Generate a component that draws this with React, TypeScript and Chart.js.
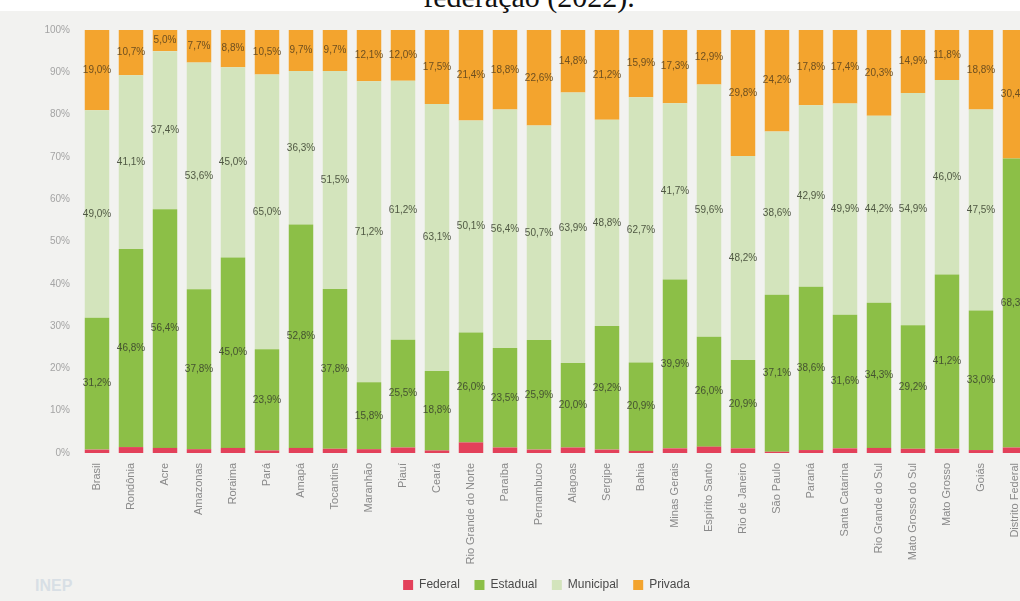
import React, { useEffect, useRef } from "react";
import { Chart, registerables } from "chart.js";

Chart.register(...registerables);

const categories = [
  "Brasil", "Rondônia", "Acre", "Amazonas", "Roraima", "Pará", "Amapá", "Tocantins",
  "Maranhão", "Piauí", "Ceará", "Rio Grande do Norte", "Paraíba", "Pernambuco", "Alagoas",
  "Sergipe", "Bahia", "Minas Gerais", "Espírito Santo", "Rio de Janeiro", "São Paulo",
  "Paraná", "Santa Catarina", "Rio Grande do Sul", "Mato Grosso do Sul", "Mato Grosso",
  "Goiás", "Distrito Federal",
];

const federal = [0.8, 1.4, 1.2, 0.9, 1.2, 0.6, 1.2, 1.0, 0.9, 1.3, 0.6, 2.5, 1.3, 0.8, 1.3, 0.8, 0.5, 1.1, 1.5, 1.1, 0.3, 0.7, 1.1, 1.2, 1.0, 1.0, 0.7, 1.3];
const estadual = [31.2, 46.8, 56.4, 37.8, 45.0, 23.9, 52.8, 37.8, 15.8, 25.5, 18.8, 26.0, 23.5, 25.9, 20.0, 29.2, 20.9, 39.9, 26.0, 20.9, 37.1, 38.6, 31.6, 34.3, 29.2, 41.2, 33.0, 68.3];
const municipal = [49.0, 41.1, 37.4, 53.6, 45.0, 65.0, 36.3, 51.5, 71.2, 61.2, 63.1, 50.1, 56.4, 50.7, 63.9, 48.8, 62.7, 41.7, 59.6, 48.2, 38.6, 42.9, 49.9, 44.2, 54.9, 46.0, 47.5, 0];
const privada = [19.0, 10.7, 5.0, 7.7, 8.8, 10.5, 9.7, 9.7, 12.1, 12.0, 17.5, 21.4, 18.8, 22.6, 14.8, 21.2, 15.9, 17.3, 12.9, 29.8, 24.2, 17.8, 17.4, 20.3, 14.9, 11.8, 18.8, 30.4];

const yTicks = [0, 10, 20, 30, 40, 50, 60, 70, 80, 90, 100];

const seriesNames = ["Federal", "Estadual", "Municipal", "Privada"];
const seriesColors = ["#e3415a", "#8cbf47", "#d3e4bc", "#f3a42e"];

const SANS = '"Liberation Sans", Arial, sans-serif';

const labelPlugin = {
  id: "segmentLabels",
  afterDatasetsDraw(chart: any) {
    const ctx = chart.ctx;
    ctx.save();
    ctx.font = `10px ${SANS}`;
    ctx.textAlign = "center";
    ctx.textBaseline = "middle";
    chart.data.datasets.forEach((ds: any, di: number) => {
      if (di === 0) return;
      const meta = chart.getDatasetMeta(di);
      meta.data.forEach((el: any, i: number) => {
        const v = ds.data[i];
        if (!v) return;
        const txt = v.toFixed(1).replace(".", ",") + "%";
        ctx.fillStyle = di === 3 ? "rgba(95,70,30,0.9)" : "rgba(55,62,45,0.85)";
        ctx.fillText(txt, el.x, (el.y + el.base) / 2);
      });
    });
    ctx.restore();
  },
};

export default function App() {
  const ref = useRef<HTMLCanvasElement | null>(null);

  useEffect(() => {
    if (!ref.current) return;
    const data = [federal, estadual, municipal, privada];
    const chart = new Chart(ref.current, {
      type: "bar",
      data: {
        labels: categories,
        datasets: seriesNames.map((name, i) => ({
          label: name,
          data: data[i],
          backgroundColor: seriesColors[i],
          borderWidth: 0,
          stack: "s",
          yAxisID: "y",
          barPercentage: 0.72,
          categoryPercentage: 1,
        })),
      },
      options: {
        animation: false,
        responsive: true,
        maintainAspectRatio: false,
        layout: { padding: { left: 30, right: 37, top: 30, bottom: 0 } },
        plugins: {
          legend: {
            display: true,
            position: "bottom",
            labels: {
              boxWidth: 10,
              boxHeight: 10,
              padding: 8,
              color: "#4a4a4a",
              font: { size: 12, family: SANS },
              generateLabels(chart: any) {
                const items = Chart.defaults.plugins.legend.labels.generateLabels(chart);
                return items.map((it: any, i: number) => ({
                  ...it,
                  text: i < items.length - 1 ? it.text + "\u00a0\u00a0" : it.text,
                }));
              },
            },
          },
          tooltip: { enabled: false },
        },
        scales: {
          x: {
            stacked: true,
            grid: { display: false, drawTicks: false },
            border: { display: false },
            ticks: {
              autoSkip: false,
              maxRotation: 90,
              minRotation: 90,
              padding: 10,
              color: "#8a8a8a",
              font: { size: 11, family: SANS },
            },
            afterFit(scale: any) {
              scale.height = 118;
            },
          },
          y: {
            stacked: true,
            position: "left",
            min: 0,
            max: 100,
            grid: { display: false, drawTicks: false },
            border: { display: false },
            afterBuildTicks(scale: any) {
              scale.ticks = yTicks.map((v) => ({ value: v }));
            },
            ticks: {
              padding: 10,
              color: "#a4a4a4",
              font: { size: 10, family: SANS },
              callback: (v: any) => v + "%",
            },
            afterFit(scale: any) {
              scale.width = 50;
            },
          },
          yRight: {
            type: "linear",
            position: "right",
            display: true,
            grid: { display: false, drawTicks: false },
            border: { display: false },
            ticks: { display: false },
            afterFit(scale: any) {
              scale.width = 31;
            },
          },
        },
      },
      plugins: [labelPlugin],
    });
    return () => chart.destroy();
  }, []);

  return (
    <div style={{ position: "fixed", left: 0, top: 0, width: 1020, height: 601, overflow: "hidden", background: "#f2f2f0" }}>
      <div style={{ position: "absolute", left: 0, top: 0, width: 1020, height: 11, background: "#ffffff" }} />
      <div
        style={{
          position: "absolute",
          left: 0,
          width: 1058,
          top: -18,
          textAlign: "center",
          fontFamily: '"Liberation Serif", "DejaVu Serif", serif',
          fontSize: 30,
          lineHeight: "30px",
          color: "#111",
          whiteSpace: "nowrap",
        }}
      >
        federação (2022).
      </div>
      <div
        style={{
          position: "absolute",
          left: 35,
          top: 577,
          fontFamily: '"Liberation Sans", sans-serif',
          fontWeight: 900,
          fontSize: 16,
          letterSpacing: 0,
          color: "#d8dfe5",
        }}
      >
        INEP
      </div>
      <div style={{ position: "absolute", left: 0, top: 0, width: 1100, height: 601 }}>
        <canvas ref={ref} />
      </div>
    </div>
  );
}
